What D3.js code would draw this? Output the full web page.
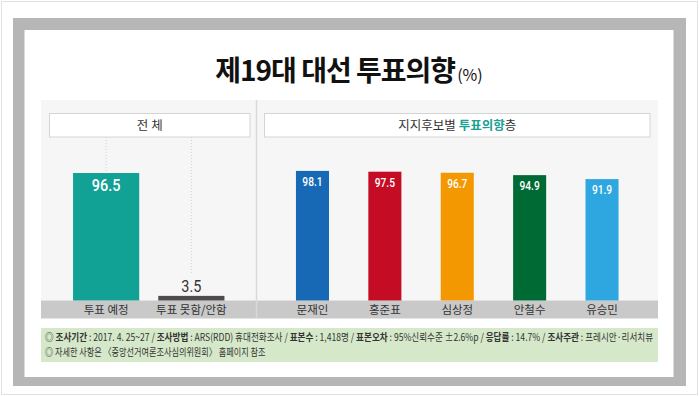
<!DOCTYPE html>
<html>
<head>
<meta charset="utf-8">
<script src="https://cdn.jsdelivr.net/npm/d3@7"></script>
<style>
  body { margin: 0; background: #fff; }
  text { font-family: "Noto Sans CJK KR", "Noto Sans", sans-serif; }
  .num { font-family: Roboto, "Noto Sans", sans-serif; }
</style>
</head>
<body>
<div id="chart"></div>
<script>
// data
var totalCats = ["투표 예정", "투표 못함/안함"];
var totalValues = [96.5, 3.5];
var totalColors = ["#12a195", "#4f4b4b"];

var candidates = ["문재인", "홍준표", "심상정", "안철수", "유승민"];
var candidateValues = [98.1, 97.5, 96.7, 94.9, 91.9];
var candidateColors = ["#1769b5", "#c40c25", "#f39800", "#006a35", "#2ea6e0"];

var svgWidth = 699;
var svgHeight = 396;

var svg = d3.select("#chart")
    .append("svg")
    .attr("width", svgWidth)
    .attr("height", svgHeight);

// page frame
svg.append("rect")
    .attr("x", 1.5).attr("y", 1.5)
    .attr("width", 696).attr("height", 393)
    .attr("fill", "#fff")
    .attr("stroke", "#e2e2e2");

svg.append("rect")
    .attr("x", 13).attr("y", 18)
    .attr("width", 673).attr("height", 368)
    .attr("fill", "#b6b6b6");

svg.append("rect")
    .attr("x", 24.5).attr("y", 30)
    .attr("width", 649).attr("height", 347)
    .attr("fill", "#fff");

// title
var title = svg.append("text")
    .attr("x", 349)
    .attr("y", 81)
    .attr("text-anchor", "middle")
    .attr("fill", "#111");
title.append("tspan")
    .attr("font-size", "28px")
    .attr("font-weight", "bold")
    .attr("letter-spacing", "-1")
    .text("제19대 대선 투표의향");
title.append("tspan")
    .attr("font-size", "16px")
    .attr("dx", 2)
    .text("(%)");

// chart area
var panelTop = 100;
var baseY = 300.5;
var bandH = 18;
var panelLeft = 41, panelMid = 256.5, panelRight = 658;

svg.append("rect")
    .attr("x", panelLeft).attr("y", panelTop)
    .attr("width", panelRight - panelLeft).attr("height", baseY - panelTop)
    .attr("fill", "#f6f6f6");

svg.append("rect")
    .attr("x", panelLeft).attr("y", baseY)
    .attr("width", panelRight - panelLeft).attr("height", bandH)
    .attr("fill", "#c9c9c9");

svg.append("line")
    .attr("x1", panelMid).attr("x2", panelMid)
    .attr("y1", panelTop).attr("y2", baseY + bandH)
    .attr("stroke", "#d9d9d9")
    .attr("stroke-width", 1.5);

// shared y scale
var yScale = d3.scaleLinear()
    .domain([0, 100])
    .range([baseY, 168.4]);

// header boxes
function header(x, w, parts) {
    svg.append("rect")
        .attr("x", x).attr("y", 113.5)
        .attr("width", w).attr("height", 23.5)
        .attr("fill", "#fff")
        .attr("stroke", "#d4d4d4");
    var t = svg.append("text")
        .attr("x", x + w / 2)
        .attr("y", 130)
        .attr("text-anchor", "middle")
        .attr("font-size", "12.5px")
        .attr("fill", "#333");
    parts.forEach(function(p) {
        t.append("tspan")
            .attr("fill", p.color || "#333")
            .attr("font-weight", p.bold ? "bold" : "normal")
            .text(p.text);
    });
}

header(49.5, 200.5, [{text: "전   체"}]);
header(264.5, 385.5, [
    {text: "지지후보별 "},
    {text: "투표의향", color: "#1aa094", bold: true},
    {text: "층"}
]);

// left: total
var xLeft = d3.scaleBand()
    .domain(totalCats)
    .range([panelLeft, panelMid])
    .paddingInner(0.2235)
    .paddingOuter(0.376);

var leftG = svg.append("g");

// dotted guides from header down to the bars
leftG.selectAll(".guide")
    .data(totalCats)
    .enter()
    .append("line")
    .attr("x1", d => xLeft(d) + xLeft.bandwidth() / 2)
    .attr("x2", d => xLeft(d) + xLeft.bandwidth() / 2)
    .attr("y1", 137)
    .attr("y2", (d, i) => yScale(totalValues[i]) - (totalValues[i] < 20 ? 22 : 0))
    .attr("stroke", "#cfcfcf")
    .attr("stroke-dasharray", "1,2");

leftG.selectAll(".bar")
    .data(totalCats)
    .enter()
    .append("rect")
    .attr("x", d => xLeft(d))
    .attr("y", (d, i) => yScale(totalValues[i]))
    .attr("width", xLeft.bandwidth())
    .attr("height", (d, i) => baseY - yScale(totalValues[i]))
    .attr("fill", (d, i) => totalColors[i]);

leftG.selectAll(".val")
    .data(totalCats)
    .enter()
    .append("text")
    .attr("class", "num")
    .attr("text-anchor", "middle")
    .attr("transform", function(d, i) {
        var cx = xLeft(d) + xLeft.bandwidth() / 2;
        var small = totalValues[i] < 20;
        var y = small ? yScale(totalValues[i]) - 3.5 : yScale(totalValues[i]) + 18;
        return "translate(" + cx + "," + y + ") scale(0.85,1)";
    })
    .attr("font-size", "17px")
    .attr("font-weight", (d, i) => totalValues[i] < 20 ? "normal" : "500")
    .attr("fill", (d, i) => totalValues[i] < 20 ? "#333" : "#fff")
    .text((d, i) => totalValues[i].toFixed(1));

leftG.selectAll(".cat")
    .data(totalCats)
    .enter()
    .append("text")
    .attr("x", d => xLeft(d) + xLeft.bandwidth() / 2)
    .attr("y", baseY + 13.5)
    .attr("text-anchor", "middle")
    .attr("font-size", "11.5px")
    .attr("fill", "#333")
    .text(d => d);

// right: by candidate
var xRight = d3.scaleBand()
    .domain(candidates)
    .range([panelMid, panelRight])
    .paddingInner(0.5436)
    .paddingOuter(0.545);

var rightG = svg.append("g");

rightG.selectAll(".bar")
    .data(candidates)
    .enter()
    .append("rect")
    .attr("x", d => xRight(d))
    .attr("y", (d, i) => yScale(candidateValues[i]))
    .attr("width", xRight.bandwidth())
    .attr("height", (d, i) => baseY - yScale(candidateValues[i]))
    .attr("fill", (d, i) => candidateColors[i]);

rightG.selectAll(".val")
    .data(candidates)
    .enter()
    .append("text")
    .attr("class", "num")
    .attr("text-anchor", "middle")
    .attr("transform", function(d, i) {
        var cx = xRight(d) + xRight.bandwidth() / 2;
        return "translate(" + cx + "," + (yScale(candidateValues[i]) + 15) + ") scale(0.85,1)";
    })
    .attr("font-size", "12px")
    .attr("font-weight", "500")
    .attr("fill", "#fff")
    .text((d, i) => candidateValues[i].toFixed(1));

rightG.selectAll(".cat")
    .data(candidates)
    .enter()
    .append("text")
    .attr("x", d => xRight(d) + xRight.bandwidth() / 2)
    .attr("y", baseY + 13.5)
    .attr("text-anchor", "middle")
    .attr("font-size", "11.5px")
    .attr("fill", "#333")
    .text(d => d);

// footnote
svg.append("rect")
    .attr("x", panelLeft).attr("y", 328)
    .attr("width", panelRight - panelLeft).attr("height", 34)
    .attr("fill", "#d5e8c9");

var noteParts = [
    ["◎ ", false], ["조사기간", true], [" : 2017. 4. 25~27 / ", false],
    ["조사방법", true], [" : ARS(RDD) 휴대전화조사 / ", false],
    ["표본수", true], [" : 1,418명 / ", false],
    ["표본오차", true], [" : 95%신뢰수준 ±2.6%p / ", false],
    ["응답률", true], [" : 14.7% / ", false],
    ["조사주관", true], [" : 프레시안·리서치뷰", false]
];

// squeeze a footnote line horizontally so it fits the wanted width
function fitLine(t, x, y, w) {
    var natural = t.node().getComputedTextLength();
    var k = Math.min(1, w / natural);
    t.attr("transform", "translate(" + x + "," + y + ") scale(" + k + ",1)");
}

var note1 = svg.append("text")
    .attr("font-size", "10.5px")
    .attr("fill", "#333");
noteParts.forEach(function(p) {
    note1.append("tspan")
        .attr("font-weight", p[1] ? "bold" : "normal")
        .text(p[0]);
});
fitLine(note1, 45, 340.5, 609);

var note2 = svg.append("text")
    .attr("font-size", "10.5px")
    .attr("fill", "#333")
    .text("◎ 자세한 사항은 〈중앙선거여론조사심의위원회〉 홈페이지 참조");
fitLine(note2, 45, 355.5, 221);
</script>
</body>
</html>
